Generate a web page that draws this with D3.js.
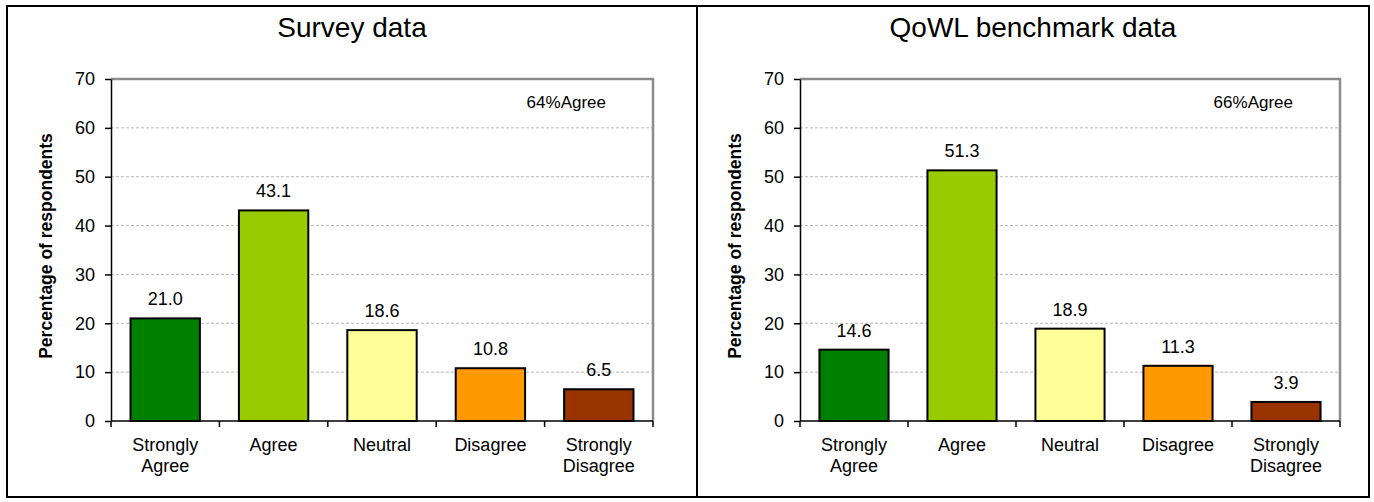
<!DOCTYPE html>
<html>
<head>
<meta charset="utf-8">
<script src="https://cdn.jsdelivr.net/npm/d3@7"></script>
<style>
  html, body { margin: 0; padding: 0; background: #fff; }
  svg { display: block; font-family: "Liberation Sans", Arial, sans-serif; }
</style>
</head>
<body>
<svg id="chart" width="1374" height="502"></svg>
<script>
// Response categories (two-line labels)
const categories = ["Strongly Agree", "Agree", "Neutral", "Disagree", "Strongly Disagree"];
const categoryLines = [["Strongly", "Agree"], ["Agree"], ["Neutral"], ["Disagree"], ["Strongly", "Disagree"]];

// Percentage of respondents per category
const surveyValues = [21.0, 43.1, 18.6, 10.8, 6.5];
const benchmarkValues = [14.6, 51.3, 18.9, 11.3, 3.9];

// Panel titles and agreement notes
const panelTitles = ["Survey data", "QoWL benchmark data"];
const agreeNotes = ["64%Agree", "66%Agree"];

// Axis ticks
const yTicks = [0, 10, 20, 30, 40, 50, 60, 70];
const yMax = 70;

// Bar fill per category
const barColors = ["#008000", "#99CC00", "#FFFF99", "#FF9900", "#993300"];

const svg = d3.select("#chart");

// Outer frame and divider between panels
svg.append("rect")
  .attr("x", 7).attr("y", 6).attr("width", 1362).attr("height", 491)
  .attr("fill", "none").attr("stroke", "#000").attr("stroke-width", 2);
svg.append("line")
  .attr("x1", 697).attr("x2", 697).attr("y1", 6).attr("y2", 497)
  .attr("stroke", "#000").attr("stroke-width", 2);

function drawPanel(cfg) {
  const g = svg.append("g");
  const top = 79, bottom = 421;

  const x = d3.scaleBand()
    .domain(categories)
    .range([cfg.left, cfg.right])
    .paddingInner(0.36)
    .paddingOuter(0.18);
  const y = d3.scaleLinear().domain([0, yMax]).range([bottom, top]);

  // Title
  g.append("text")
    .attr("x", cfg.center).attr("y", 37)
    .attr("text-anchor", "middle")
    .attr("font-size", 28)
    .attr("fill", "#000")
    .text(cfg.title);

  // Dashed gridlines
  g.append("g").selectAll("line")
    .data(yTicks.filter(t => t > 0 && t < yMax))
    .join("line")
    .attr("x1", cfg.left).attr("x2", cfg.right)
    .attr("y1", d => y(d)).attr("y2", d => y(d))
    .attr("stroke", "#b8b8b8").attr("stroke-width", 1)
    .attr("stroke-dasharray", "3,2");

  // Plot frame: top and right edges
  g.append("path")
    .attr("d", `M${cfg.left},${y(yMax)}H${cfg.right}V${y(0)}`)
    .attr("fill", "none").attr("stroke", "#8c8c8c").attr("stroke-width", 2.5);

  // Bars
  g.append("g").selectAll("rect")
    .data(cfg.values)
    .join("rect")
    .attr("x", (d, i) => x(categories[i]))
    .attr("y", d => y(d))
    .attr("width", x.bandwidth())
    .attr("height", d => y(0) - y(d))
    .attr("fill", (d, i) => barColors[i])
    .attr("stroke", "#000").attr("stroke-width", 2);

  // Value labels
  g.append("g").selectAll("text")
    .data(cfg.values)
    .join("text")
    .attr("x", (d, i) => x(categories[i]) + x.bandwidth() / 2)
    .attr("y", d => y(d) - 13)
    .attr("text-anchor", "middle")
    .attr("font-size", 18)
    .attr("fill", "#000")
    .text(d => d.toFixed(1));

  // Y axis
  const yAxis = d3.axisLeft(y).tickValues(yTicks).tickSize(6).tickPadding(10).tickSizeOuter(0);
  const ya = g.append("g").attr("transform", `translate(${cfg.left},0)`).call(yAxis);
  ya.select(".domain").attr("stroke", "#000").attr("stroke-width", 1.5);
  ya.selectAll(".tick line").attr("stroke", "#000").attr("stroke-width", 1.5);
  ya.selectAll(".tick text").attr("font-size", 18).attr("fill", "#000")
    .attr("font-family", "Liberation Sans, Arial, sans-serif");

  // X axis: baseline with tick marks at category boundaries
  g.append("line")
    .attr("x1", cfg.left).attr("x2", cfg.right)
    .attr("y1", y(0)).attr("y2", y(0))
    .attr("stroke", "#000").attr("stroke-width", 1.5);
  const bounds = d3.range(categories.length + 1).map(i => cfg.left + i * (cfg.right - cfg.left) / categories.length);
  g.append("g").selectAll("line")
    .data(bounds)
    .join("line")
    .attr("x1", d => d).attr("x2", d => d)
    .attr("y1", y(0)).attr("y2", y(0) + 6)
    .attr("stroke", "#000").attr("stroke-width", 1.5);

  // Category labels
  const cat = g.append("g").selectAll("text")
    .data(categoryLines)
    .join("text")
    .attr("x", (d, i) => x(categories[i]) + x.bandwidth() / 2)
    .attr("y", 451)
    .attr("text-anchor", "middle")
    .attr("font-size", 18)
    .attr("fill", "#000");
  cat.selectAll("tspan")
    .data(d => d)
    .join("tspan")
    .attr("x", function () { return d3.select(this.parentNode).attr("x"); })
    .attr("dy", (d, i) => i === 0 ? 0 : 21)
    .text(d => d);

  // Y axis title
  g.append("text")
    .attr("transform", `translate(${cfg.left - 59},${(top + bottom) / 2 - 4}) rotate(-90)`)
    .attr("text-anchor", "middle")
    .attr("font-size", 17.5)
    .attr("font-weight", "bold")
    .attr("fill", "#000")
    .text("Percentage of respondents");

  // Agreement note
  g.append("text")
    .attr("x", cfg.right - 47).attr("y", 108)
    .attr("text-anchor", "end")
    .attr("font-size", 17)
    .attr("fill", "#000")
    .text(cfg.note);
}

drawPanel({ left: 111, right: 653, center: 352, title: panelTitles[0], values: surveyValues, note: agreeNotes[0] });
drawPanel({ left: 800, right: 1340, center: 1033, title: panelTitles[1], values: benchmarkValues, note: agreeNotes[1] });
</script>
</body>
</html>
